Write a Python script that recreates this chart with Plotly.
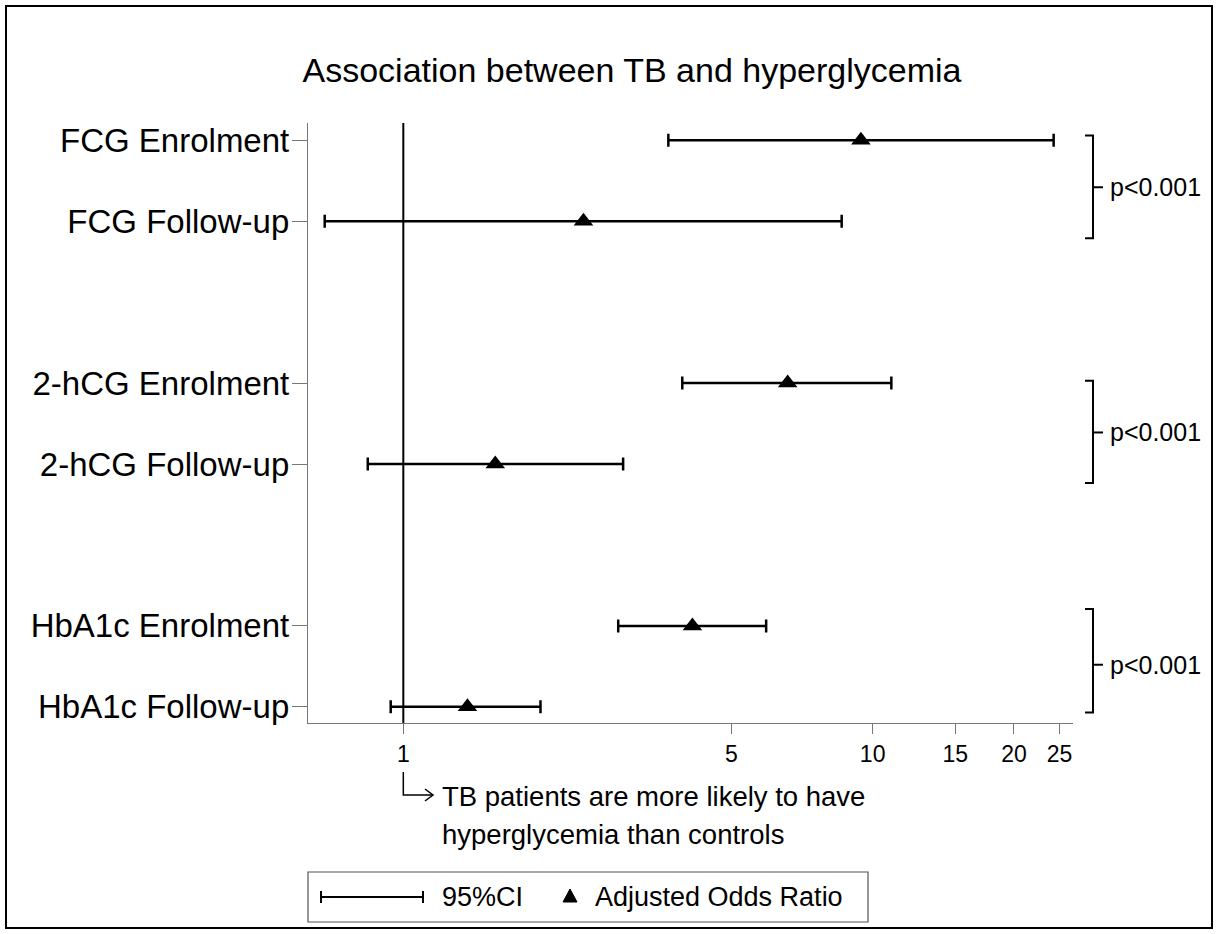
import math
import plotly.graph_objects as go

# ---- data ----------------------------------------------------------------
outcomes = ["FCG Enrolment", "FCG Follow-up",
            "2-hCG Enrolment", "2-hCG Follow-up",
            "HbA1c Enrolment", "HbA1c Follow-up"]
adj_or = [9.44, 2.42, 6.59, 1.57, 4.13, 1.37]
ci_low = [3.67, 0.68, 3.93, 0.84, 2.87, 0.94]
ci_high = [24.3, 8.59, 10.96, 2.94, 5.93, 1.96]
p_values = ["p<0.001", "p<0.001", "p<0.001"]
x_ticks = [1, 5, 10, 15, 20, 25]

# ---- layout geometry (pixels) -------------------------------------------
W, H = 1218, 934
L, R, T, B = 308, 1073, 123, 723
FONT = "Liberation Sans, Arial, sans-serif"
X_RANGE = [math.log10(0.6265), math.log10(26.72)]

# category axis: blank spacer rows separate the three measures
row_order = [outcomes[0], outcomes[1], " ",
             outcomes[2], outcomes[3], "  ",
             outcomes[4], outcomes[5]]
Y_RANGE = [7.2, -0.214]


def px(x):
    return (x - L) / (R - L)


def py(y):
    return (B - y) / (B - T)


def xdata_to_paper(v):
    return (math.log10(v) - X_RANGE[0]) / (X_RANGE[1] - X_RANGE[0])


def ydata_to_paper(v):
    return (v - Y_RANGE[0]) / (Y_RANGE[1] - Y_RANGE[0])


fig = go.Figure()

fig.add_trace(go.Scatter(
    x=adj_or, y=outcomes, mode="markers",
    marker=dict(symbol="triangle-up", size=17, color="black"),
    error_x=dict(type="data", symmetric=False,
                 array=[h - o for h, o in zip(ci_high, adj_or)],
                 arrayminus=[o - l for o, l in zip(adj_or, ci_low)],
                 color="black", thickness=2.5, width=6.5),
    showlegend=False, cliponaxis=False,
))

shapes = []
annotations = []
line_k = dict(color="black", width=2)

# reference line at OR = 1
x1 = xdata_to_paper(1)
shapes.append(dict(type="line", xref="paper", yref="paper",
                   x0=x1, x1=x1, y0=0, y1=1,
                   line=dict(color="black", width=2), layer="below"))

# brackets with p-values for each pair of rows
bracket_spans = [(-0.06, 1.21, 0.58), (2.97, 4.235, 3.61), (5.79, 7.07, 6.48)]
xa, xb, xc = px(1085), px(1093), px(1103)
for (top, bot, mid), ptxt in zip(bracket_spans, p_values):
    yt, yb, ym = ydata_to_paper(top), ydata_to_paper(bot), ydata_to_paper(mid)
    shapes.append(dict(type="path", xref="paper", yref="paper",
                       path=f"M {xa},{yt} L {xb},{yt} L {xb},{yb} L {xa},{yb}",
                       line=line_k))
    shapes.append(dict(type="line", xref="paper", yref="paper",
                       x0=xb, x1=xc, y0=ym, y1=ym, line=line_k))
    annotations.append(dict(xref="paper", yref="paper", x=px(1108), y=ym,
                            text=ptxt, showarrow=False, xanchor="left",
                            yanchor="middle",
                            font=dict(family=FONT, size=25, color="black")))

# bent arrow below the reference line
shapes.append(dict(type="path", xref="paper", yref="paper",
                   path=f"M {x1},{py(772)} L {x1},{py(795)} L {px(433)},{py(795)}",
                   line=dict(color="black", width=1.5)))
shapes.append(dict(type="path", xref="paper", yref="paper",
                   path=f"M {px(425)},{py(789)} L {px(433)},{py(795)} L {px(425)},{py(801)}",
                   line=dict(color="black", width=1.5)))
annotations.append(dict(xref="paper", yref="paper", x=px(440), y=py(796),
                        text="TB patients are more likely to have",
                        showarrow=False, xanchor="left", yanchor="middle",
                        font=dict(family=FONT, size=27.5, color="black")))
annotations.append(dict(xref="paper", yref="paper", x=px(440), y=py(834),
                        text="hyperglycemia than controls",
                        showarrow=False, xanchor="left", yanchor="middle",
                        font=dict(family=FONT, size=27.5, color="black")))

# key box
ly = 897
shapes.append(dict(type="rect", xref="paper", yref="paper",
                   x0=px(308), x1=px(868), y0=py(872), y1=py(922),
                   line=dict(color="#555555", width=1.2)))
shapes.append(dict(type="line", xref="paper", yref="paper",
                   x0=px(321), x1=px(423), y0=py(ly), y1=py(ly),
                   line=dict(color="black", width=2)))
for cx in (321, 423):
    shapes.append(dict(type="line", xref="paper", yref="paper",
                       x0=px(cx), x1=px(cx), y0=py(ly - 6), y1=py(ly + 6),
                       line=dict(color="black", width=2)))
annotations.append(dict(xref="paper", yref="paper", x=px(440), y=py(ly),
                        text="95%CI", showarrow=False, xanchor="left",
                        yanchor="middle",
                        font=dict(family=FONT, size=27, color="black")))
shapes.append(dict(type="path", xref="paper", yref="paper",
                   path=f"M {px(563)},{py(ly + 5)} L {px(577)},{py(ly + 5)} L {px(570)},{py(ly - 8)} Z",
                   fillcolor="black", line=dict(color="black", width=1)))
annotations.append(dict(xref="paper", yref="paper", x=px(593), y=py(ly),
                        text="Adjusted Odds Ratio", showarrow=False,
                        xanchor="left", yanchor="middle",
                        font=dict(family=FONT, size=27, color="black")))

# outer frame
shapes.append(dict(type="rect", xref="paper", yref="paper",
                   x0=px(6), x1=px(1212), y0=py(928), y1=py(6),
                   line=dict(color="black", width=2)))

fig.update_layout(
    width=W, height=H,
    margin=dict(l=L, r=W - R, t=T, b=H - B, pad=0),
    paper_bgcolor="white", plot_bgcolor="white",
    title=dict(text="Association between TB and hyperglycemia",
               x=632 / W, xanchor="center", xref="container",
               y=1 - 70 / H, yanchor="middle", yref="container",
               font=dict(family=FONT, size=34, color="black")),
    xaxis=dict(type="log", range=X_RANGE, tickvals=x_ticks,
               ticktext=[str(v) for v in x_ticks],
               ticks="outside", ticklen=10, tickcolor="#777777", tickwidth=1.3,
               showline=True, linecolor="#777777", linewidth=1.3,
               showgrid=False, zeroline=False,
               tickfont=dict(family=FONT, size=23, color="black")),
    yaxis=dict(type="category", categoryorder="array", categoryarray=row_order,
               range=Y_RANGE, tickvals=outcomes,
               ticks="outside", ticklen=15, tickcolor="#777777", tickwidth=1.3,
               showline=True, linecolor="#777777", linewidth=1.3,
               showgrid=False, zeroline=False, ticklabelstandoff=-4,
               tickfont=dict(family=FONT, size=33, color="black")),
    shapes=shapes,
    annotations=annotations,
    showlegend=False,
)

fig.write_html("out.html")
